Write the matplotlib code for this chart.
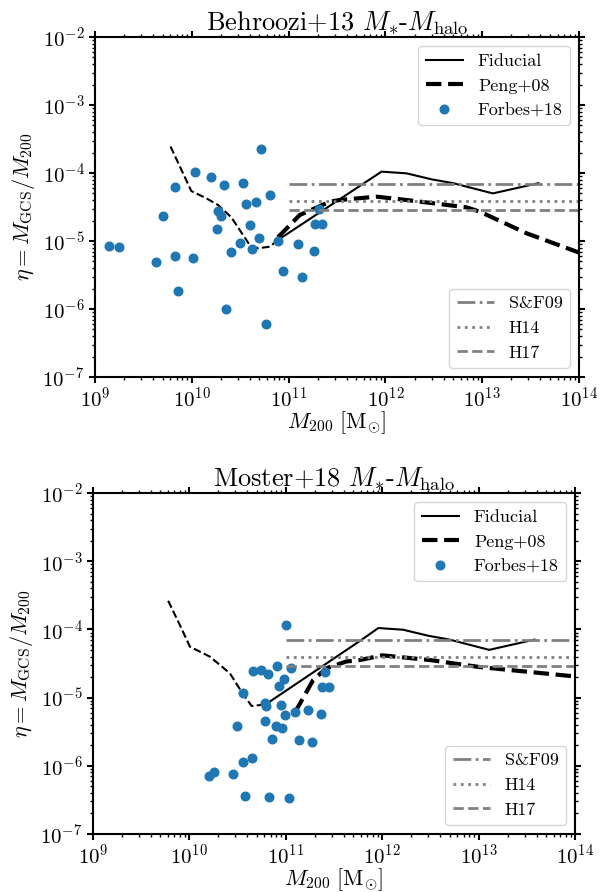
import numpy as np
import matplotlib
matplotlib.use("Agg")
import matplotlib.pyplot as plt

plt.rcParams.update({
    "font.family": "serif",
    "font.serif": ["cmr10", "DejaVu Serif"],
    "mathtext.fontset": "cm",
    "axes.formatter.use_mathtext": True,
    "axes.linewidth": 1.5,
    "xtick.top": True,
    "ytick.right": True,
    "xtick.direction": "out",
    "ytick.direction": "out",
    "xtick.major.width": 1.5,
    "ytick.major.width": 1.5,
    "xtick.minor.width": 1.0,
    "ytick.minor.width": 1.0,
    "xtick.major.size": 4,
    "ytick.major.size": 4,
    "xtick.minor.size": 2,
    "ytick.minor.size": 2,
    "xtick.labelsize": 15,
    "ytick.labelsize": 15,
})

# ---------------- data (log10 values) ----------------
# Behroozi+13 panel
top_forbes_logM = [10.711, 10.032, 10.194, 9.822, 10.336, 10.525, 10.808, 10.56, 10.66,
                   11.314, 9.698, 10.267, 10.298, 11.273, 11.342, 10.598, 10.256, 10.691,
                   10.497, 10.89, 11.094, 10.622, 10.408, 11.26, 9.14, 9.246, 9.633,
                   9.825, 10.011, 10.946, 11.139, 9.853, 10.353, 10.766]
top_forbes_logEta = [-3.647, -3.985, -4.054, -4.21, -4.176, -4.142, -4.319, -4.456, -4.42,
                     -4.529, -4.632, -4.559, -4.632, -4.75, -4.745, -4.765, -4.824, -4.96,
                     -5.025, -5.005, -5.049, -5.118, -5.162, -5.142, -5.08, -5.083, -5.309,
                     -5.216, -5.245, -5.441, -5.529, -5.73, -6.0, -6.22]
top_fid_lo_logM = [9.78, 9.995, 10.15, 10.27, 10.408, 10.598, 10.684, 10.805, 10.89]
top_fid_lo_logEta = [-3.61, -4.265, -4.372, -4.47, -4.651, -5.059, -5.107, -5.084, -4.985]
top_fid_hi_logM = [10.89, 11.96, 12.218, 12.477, 12.70, 13.11, 13.58]
top_fid_hi_logEta = [-4.985, -3.98, -4.005, -4.093, -4.15, -4.30, -4.15]
top_peng_logM = [10.89, 11.115, 11.425, 11.53, 11.908, 12.218, 12.838, 12.976, 13.459, 14.0]
top_peng_logEta = [-4.946, -4.618, -4.422, -4.397, -4.348, -4.397, -4.505, -4.569, -4.887, -5.17]

# Moster+18 panel
bot_forbes_logM = [11.0, 10.662, 10.745, 10.817, 10.91, 11.056, 10.98, 10.928, 11.41, 11.38,
                   11.443, 10.555, 10.783, 10.793, 10.95, 10.994, 11.10, 11.232, 11.367,
                   10.49, 10.78, 10.897, 10.963, 10.856, 11.132, 11.27, 10.65, 10.558,
                   10.257, 10.20, 10.454, 10.576, 10.825, 11.035]
bot_forbes_logEta = [-3.94, -4.61, -4.60, -4.66, -4.53, -4.56, -4.73, -4.825, -4.63, -4.85,
                     -4.84, -4.937, -5.075, -5.13, -5.11, -5.26, -5.21, -5.18, -5.245,
                     -5.42, -5.34, -5.416, -5.45, -5.60, -5.62, -5.655, -5.88, -5.94,
                     -6.087, -6.15, -6.125, -6.443, -6.46, -6.477]
bot_fid_lo_logM = [9.78, 9.902, 10.006, 10.213, 10.42, 10.54, 10.645, 10.73, 10.817]
bot_fid_lo_logEta = [-3.58, -3.94, -4.254, -4.40, -4.644, -4.913, -5.123, -5.11, -5.075]
bot_fid_hi_logM = [10.817, 11.768, 11.96, 12.218, 12.477, 12.70, 13.11, 13.58]
bot_fid_hi_logEta = [-5.075, -4.17, -3.98, -4.005, -4.093, -4.15, -4.30, -4.15]
bot_peng_logM = [11.094, 11.284, 11.42, 11.63, 11.768, 12.0, 12.5, 13.0, 13.5, 14.0]
bot_peng_logEta = [-5.22, -4.742, -4.57, -4.47, -4.45, -4.38, -4.45, -4.55, -4.62, -4.69]

# constant-eta observational relations
ref_labels = ["S&F09", "H14", "H17"]
ref_eta = [7.0e-5, 3.9e-5, 2.9e-5]
ref_styles = ["-.", ":", "--"]
ref_xrange = [1e11, 1e14]

titles = [r"Behroozi+13 $M_{*}$-$M_{\rm halo}$", r"Moster+18 $M_{*}$-$M_{\rm halo}$"]

panels = [
    (top_forbes_logM, top_forbes_logEta, top_fid_lo_logM, top_fid_lo_logEta,
     top_fid_hi_logM, top_fid_hi_logEta, top_peng_logM, top_peng_logEta),
    (bot_forbes_logM, bot_forbes_logEta, bot_fid_lo_logM, bot_fid_lo_logEta,
     bot_fid_hi_logM, bot_fid_hi_logEta, bot_peng_logM, bot_peng_logEta),
]

fig = plt.figure(figsize=(6.12, 8.92), dpi=100)
positions = [[95/612, 1-377/892, 484/612, 340/892],
             [93/612, 1-834/892, 482/612, 341/892]]

p = lambda a: np.power(10.0, np.asarray(a))

for i, (pos, pan) in enumerate(zip(positions, panels)):
    fM, fE, loM, loE, hiM, hiE, pM, pE = pan
    ax = fig.add_axes(pos)
    ax.set_xscale("log")
    ax.set_yscale("log")
    ax.plot(p(loM), p(loE), color="k", ls="--", lw=1.5)
    l1, = ax.plot(p(hiM), p(hiE), color="k", ls="-", lw=1.5, label="Fiducial")
    l2, = ax.plot(p(pM), p(pE), color="k", ls="--", lw=3, label="Peng+08")
    l3, = ax.plot(p(fM), p(fE), "o", color="#1f77b4", ms=6.2, ls="none", label="Forbes+18")
    refs = []
    for lab, eta, st in zip(ref_labels, ref_eta, ref_styles):
        r, = ax.plot(ref_xrange, [eta, eta], color="gray", ls=st, lw=2, label=lab)
        refs.append(r)
    ax.set_xlim(1e9, 1e14)
    ax.set_ylim(1e-7, 1e-2)
    leg1 = ax.legend(handles=[l1, l2, l3], loc="upper right", fontsize=13,
                     handlelength=2.1)
    ax.add_artist(leg1)
    ax.legend(handles=refs, loc="lower right", fontsize=13, handlelength=2.1)
    ax.set_title(titles[i], fontsize=19, pad=4)
    ax.set_xlabel(r"$M_{200}\ [\mathrm{M}_{\odot}]$", fontsize=16, labelpad=-1)
    ax.set_ylabel(r"$\eta = M_{\rm GCS}/M_{200}$", fontsize=16)
    ax.tick_params(which="both", top=True, right=True)
    ax.tick_params(axis="x", which="major", pad=2.5)

fig.savefig("out.png", dpi=100)
